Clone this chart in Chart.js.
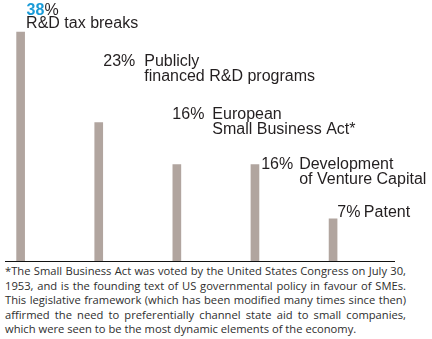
<!DOCTYPE html>
<html>
<head>
<meta charset="utf-8">
<script src="https://cdn.jsdelivr.net/npm/chart.js@4/dist/chart.umd.min.js"></script>
<style>
  body{margin:0;background:#fff;width:432px;height:339px;overflow:hidden;position:relative}
  #wrap{position:absolute;left:0;top:0;width:432px;height:262px}
  #note{position:absolute;left:5px;top:264px;width:401px;font:11.2px 'Open Sans',sans-serif;line-height:14.5px;color:#2e2e2e}
  #note div{text-align:justify;text-align-last:justify;white-space:nowrap}
  #note div.last{text-align-last:left}
</style>
</head>
<body>
<div id="wrap"><canvas id="chart"></canvas></div>
<div id="note">
  <div>*The Small Business Act was voted by the United States Congress on July 30,</div>
  <div>1953, and is the founding text of US governmental policy in favour of SMEs.</div>
  <div>This legislative framework (which has been modified many times since then)</div>
  <div>affirmed the need to preferentially channel state aid to small companies,</div>
  <div class="last">which were seen to be the most dynamic elements of the economy.</div>
</div>
<script>
// share of each support measure (%)
const slots = [0, 1, 2, 3, 4];
const shares = [38, 23, 16, 16, 7];
const names = [
  ['R&D tax breaks'],
  ['Publicly', 'financed R&D programs'],
  ['European', 'Small Business Act*'],
  ['Development', 'of Venture Capital'],
  ['Patent']
];

const BAR_COLOR = '#b1a59f';
const TEXT_COLOR = '#231f20';
const BLUE = '#1b9bd7';
const LABEL_FONT = "16px 'Liberation Sans', Arial, sans-serif";
const LABEL_BOLD = "bold 16px 'Liberation Sans', Arial, sans-serif";

// where each label sits relative to the top-centre of its bar
// pct = [dx, dy] of the "NN%" text, name = [dx, dy] of the first name line
const LABEL_POS = [
  { pct: [6, -17],    name: [5.5, -4] },
  { pct: [4.5, -56],  name: [45.5, -56] },
  { pct: [-4.5, -46], name: [35.5, -46] },
  { pct: [6.2, 4],    name: [44.2, 4] },
  { pct: [4.3, -2],   name: [30.8, -2] }
];
const LINE_GAP = 15;

const barLabels = {
  id: 'barLabels',
  afterDatasetsDraw(chart) {
    const ctx = chart.ctx;
    const meta = chart.getDatasetMeta(0);
    ctx.save();
    ctx.textBaseline = 'alphabetic';
    ctx.textAlign = 'left';
    meta.data.forEach((bar, i) => {
      const p = LABEL_POS[i];
      const px = bar.x + p.pct[0], py = bar.y + p.pct[1];
      if (i === 0) {
        // first measure gets the highlighted number
        ctx.font = LABEL_BOLD;
        ctx.fillStyle = BLUE;
        const num = String(shares[i]);
        ctx.fillText(num, px, py);
        const w = ctx.measureText(num).width;
        ctx.font = LABEL_FONT;
        ctx.fillStyle = TEXT_COLOR;
        ctx.fillText('%', px + w, py);
      } else {
        ctx.font = LABEL_FONT;
        ctx.fillStyle = TEXT_COLOR;
        ctx.fillText(shares[i] + '%', px, py);
      }
      ctx.font = LABEL_FONT;
      ctx.fillStyle = TEXT_COLOR;
      names[i].forEach((line, k) => {
        ctx.fillText(line, bar.x + p.name[0], bar.y + p.name[1] + k * LINE_GAP);
      });
    });
    ctx.restore();
  }
};

new Chart(document.getElementById('chart'), {
  type: 'bar',
  data: {
    datasets: [{
      data: slots.map((s, i) => ({ x: s, y: shares[i] })),
      backgroundColor: BAR_COLOR,
      barThickness: 8,
      borderWidth: 0
    }]
  },
  options: {
    responsive: true,
    maintainAspectRatio: false,
    animation: false,
    layout: { padding: { left: 5, right: 38, top: 0, bottom: 1 } },
    plugins: { legend: { display: false }, tooltip: { enabled: false } },
    scales: {
      x: {
        type: 'linear', min: -0.2, max: 4.78, offset: false,
        ticks: { display: false }, grid: { display: false, drawTicks: false },
        border: { display: true, color: '#111', width: 1 }
      },
      y: { min: 0, max: 43.33, display: false }
    }
  },
  plugins: [barLabels]
});
</script>
</body>
</html>
